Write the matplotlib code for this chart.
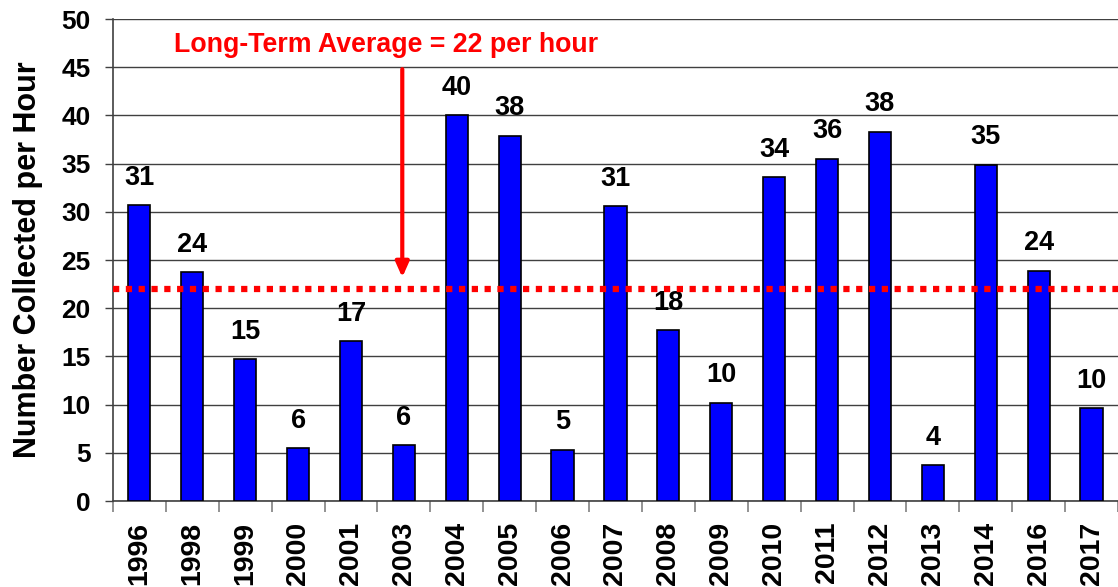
import matplotlib.pyplot as plt
import numpy as np

# -------------------------------
# Data
# -------------------------------
years = ['1996', '1998', '1999', '2000', '2001', '2003', '2004', '2005', '2006', '2007',
         '2008', '2009', '2010', '2011', '2012', '2013', '2014', '2016', '2017']
values = [30.7, 23.75, 14.7, 5.5, 16.6, 5.8, 40.0, 37.9, 5.3, 30.6,
          17.7, 10.2, 33.6, 35.5, 38.3, 3.7, 34.9, 23.9, 9.6]
labels = ['31', '24', '15', '6', '17', '6', '40', '38', '5', '31',
          '18', '10', '34', '36', '38', '4', '35', '24', '10']
long_term_avg = 22

sans = ['Liberation Sans', 'DejaVu Sans']

# -------------------------------
# Figure
# -------------------------------
fig = plt.figure(figsize=(11.18, 5.87), dpi=100)
ax = fig.add_axes([0.101, 0.1465, 0.899, 0.8211])

x = np.arange(len(years))
ax.bar(x, values, width=0.42, color='#0000ff', edgecolor='black', linewidth=1.2, zorder=3)

for xi, v, lab in zip(x, values, labels):
    ax.text(xi, v + 1.5, lab, ha='center', va='bottom', fontsize=19.5,
            fontweight='bold', family=sans, zorder=4)

ax.axhline(long_term_avg, color='#ff0000', linewidth=4.5, linestyle=(0, (1, 1.05)), zorder=5)

ax.annotate('', xy=(4.97, 23.2), xytext=(4.97, 44.8),
            arrowprops=dict(arrowstyle='-|>,head_length=0.9,head_width=0.4',
                            color='#ff0000', lw=3, shrinkA=0, shrinkB=0), zorder=6)
ax.text(4.67, 47.3, 'Long-Term Average = 22 per hour', ha='center', va='center',
        fontsize=19.3, fontweight='bold', color='#ff0000', family=sans)

# -------------------------------
# Axes styling
# -------------------------------
ax.set_xlim(-0.5, len(years) - 0.5)
ax.set_ylim(0, 50)
ax.set_yticks(np.arange(0, 51, 5))
ax.yaxis.grid(True, color='#404040', linewidth=1.0, zorder=0)
ax.set_axisbelow(True)

ax.set_xticks(x)
ax.set_xticklabels(years, rotation=90, fontsize=20.5, fontweight='bold', family=sans)
ax.set_xticks(np.arange(-0.5, len(years), 1), minor=True)
ax.tick_params(axis='x', which='major', length=0, pad=15)
ax.tick_params(axis='x', which='minor', length=8, color='#808080', width=1.2)
ax.tick_params(axis='y', length=6, color='#404040', width=1, pad=10)
for t in ax.get_yticklabels():
    t.set_fontsize(19)
    t.set_fontweight('bold')
    t.set_family(sans)

ax.spines['top'].set_visible(False)
ax.spines['right'].set_visible(False)
ax.spines['left'].set_color('#404040')
ax.spines['bottom'].set_color('#404040')
ax.spines['left'].set_linewidth(1.2)
ax.spines['bottom'].set_linewidth(1.2)

ax.set_ylabel('Number Collected per Hour', fontsize=22, fontweight='bold', family=sans)
ax.yaxis.set_label_coords(-0.07, 0.5)

fig.savefig('out.png', dpi=100)
